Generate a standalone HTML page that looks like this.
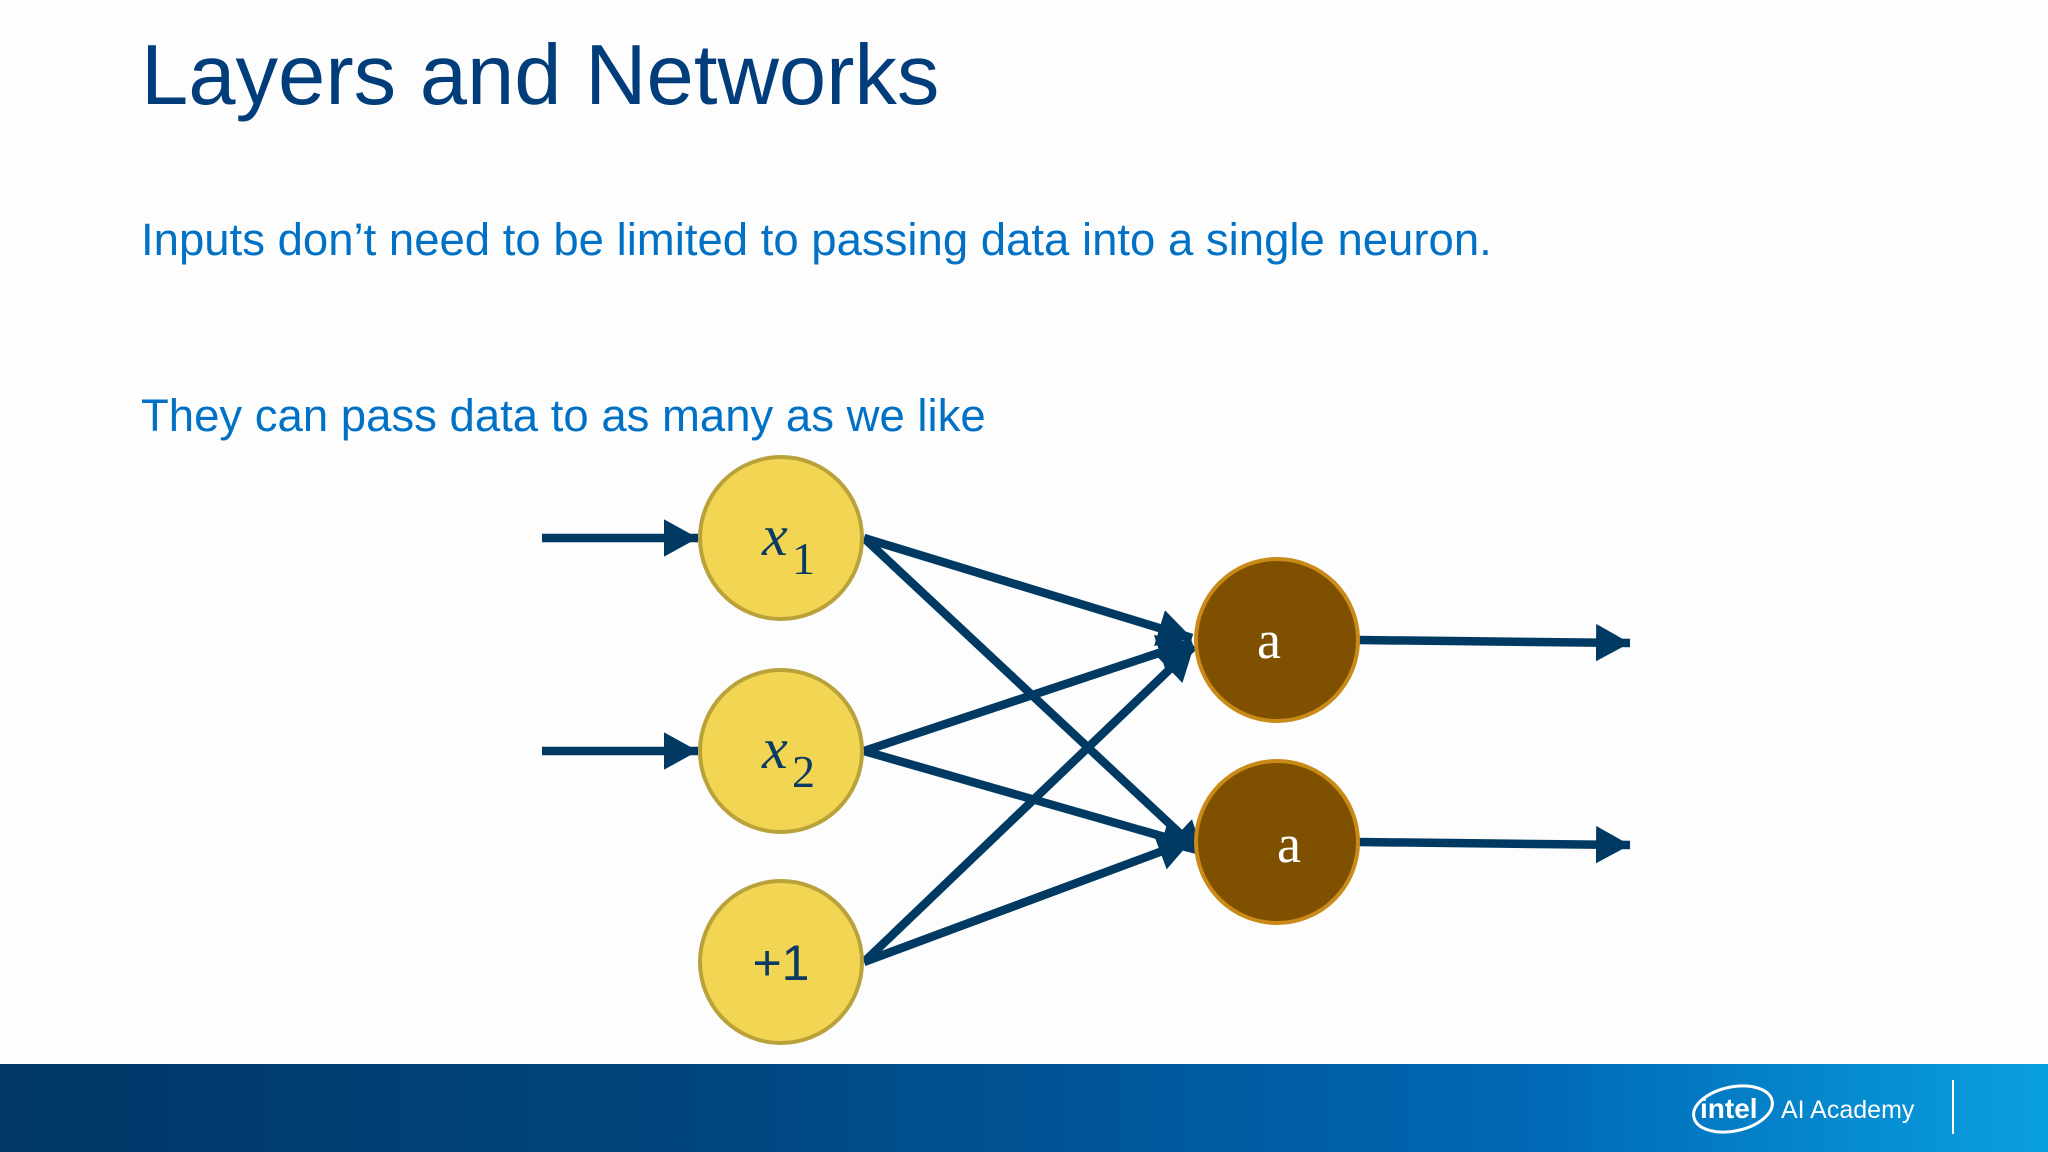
<!DOCTYPE html>
<html><head><meta charset="utf-8"><style>
html,body{margin:0;padding:0;width:2048px;height:1152px;overflow:hidden;background:#fdfdfd}
svg{display:block}
</style></head><body>
<svg width="2048" height="1152" viewBox="0 0 2048 1152" xmlns="http://www.w3.org/2000/svg">
<defs>
<linearGradient id="bn" x1="0" x2="1" y1="0" y2="0">
<stop offset="0" stop-color="#003767"/><stop offset="0.35" stop-color="#00467f"/><stop offset="0.75" stop-color="#0068b5"/><stop offset="1" stop-color="#0aa0e0"/>
</linearGradient>
<marker id="ah" markerWidth="4" markerHeight="4.4" refX="4" refY="2.2" orient="auto" markerUnits="strokeWidth">
<path d="M0,0 L4,2.2 L0,4.4 Z" fill="#003a63"/>
</marker>
</defs>
<rect width="2048" height="1152" fill="#fdfdfd"/>
<text x="141" y="104" font-family="Liberation Sans, sans-serif" font-size="85" fill="#003d7a">Layers and Networks</text>
<text x="141" y="255" font-family="Liberation Sans, sans-serif" font-size="45.5" fill="#0071c5">Inputs don’t need to be limited to passing data into a single neuron.</text>
<text x="141" y="431" font-family="Liberation Sans, sans-serif" font-size="45.5" fill="#0071c5">They can pass data to as many as we like</text>
<g stroke="#003a63" stroke-width="8.5" fill="none">
<line x1="542" y1="538" x2="698" y2="538" marker-end="url(#ah)"/>
<line x1="542" y1="751" x2="698" y2="751" marker-end="url(#ah)"/>
<line x1="864" y1="538" x2="1192" y2="638" marker-end="url(#ah)"/>
<line x1="864" y1="538" x2="1204" y2="856" marker-end="url(#ah)"/>
<line x1="864" y1="751" x2="1192" y2="642" marker-end="url(#ah)"/>
<line x1="864" y1="751" x2="1196" y2="846" marker-end="url(#ah)"/>
<line x1="864" y1="962" x2="1194" y2="646" marker-end="url(#ah)"/>
<line x1="864" y1="962" x2="1192" y2="840" marker-end="url(#ah)"/>
<line x1="1358" y1="640" x2="1630" y2="643" marker-end="url(#ah)"/>
<line x1="1358" y1="842" x2="1630" y2="845" marker-end="url(#ah)"/>
</g>
<g fill="#f2d552" stroke="#b9a23a" stroke-width="4">
<circle cx="781" cy="538" r="81"/>
<circle cx="781" cy="751" r="81"/>
<circle cx="781" cy="962" r="81"/>
</g>
<g fill="#7f5000" stroke="#c98a18" stroke-width="4">
<circle cx="1277" cy="640" r="81"/>
<circle cx="1277" cy="842" r="81"/>
</g>
<g font-family="Liberation Serif, serif" fill="#0b3a63">
<text x="762" y="555" font-size="58" font-style="italic">x</text><text x="792" y="574" font-size="46">1</text>
<text x="762" y="768" font-size="58" font-style="italic">x</text><text x="792" y="787" font-size="46">2</text>
</g>
<text x="781" y="980" font-family="Liberation Sans, sans-serif" font-size="50" fill="#0b3a63" text-anchor="middle">+1</text>
<text x="1269" y="658" font-family="Liberation Serif, serif" font-size="54" fill="#ffffff" text-anchor="middle">a</text>
<text x="1289" y="862" font-family="Liberation Serif, serif" font-size="54" fill="#ffffff" text-anchor="middle">a</text>
<rect x="0" y="1064" width="2048" height="88" fill="url(#bn)"/>
<ellipse cx="1733" cy="1109" rx="40" ry="22" fill="none" stroke="#fff" stroke-width="3" transform="rotate(-12 1733 1109)"/>
<text x="1700" y="1118" font-family="Liberation Sans, sans-serif" font-size="28" font-weight="bold" fill="#fff">intel</text>
<text x="1781" y="1118" font-family="Liberation Sans, sans-serif" font-size="25" fill="#fff">AI Academy</text>
<line x1="1953" y1="1080" x2="1953" y2="1134" stroke="#fff" stroke-width="2"/>
</svg>
</body></html>
